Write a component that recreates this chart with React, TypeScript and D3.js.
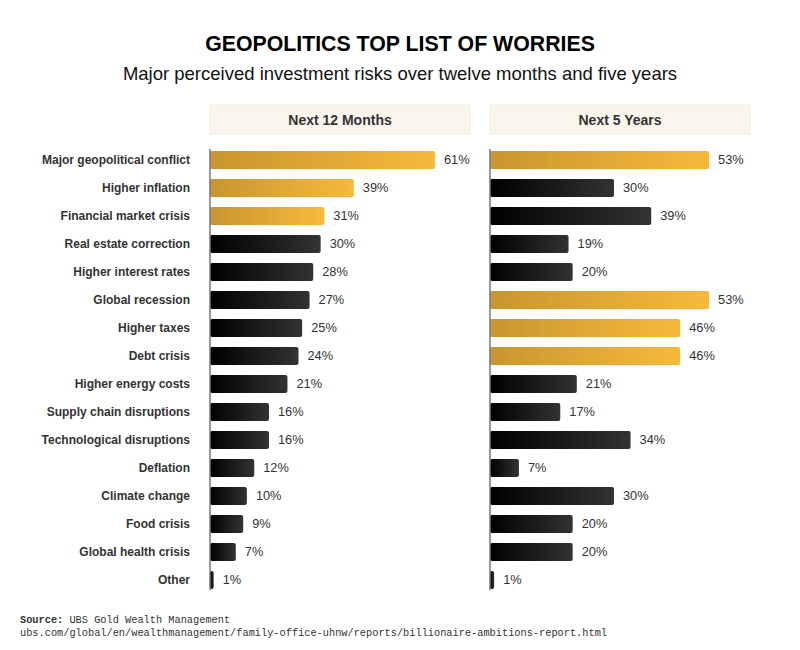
import React from "react";
import * as d3 from "d3";

const categories = [
  "Major geopolitical conflict",
  "Higher inflation",
  "Financial market crisis",
  "Real estate correction",
  "Higher interest rates",
  "Global recession",
  "Higher taxes",
  "Debt crisis",
  "Higher energy costs",
  "Supply chain disruptions",
  "Technological disruptions",
  "Deflation",
  "Climate change",
  "Food crisis",
  "Global health crisis",
  "Other",
];
const next12Months = [61, 39, 31, 30, 28, 27, 25, 24, 21, 16, 16, 12, 10, 9, 7, 1];
const next5Years = [53, 30, 39, 19, 20, 53, 46, 46, 21, 17, 34, 7, 30, 20, 20, 1];
const highlight12 = [0, 1, 2];
const highlight5 = [0, 5, 6, 7];
const panelTitles = ["Next 12 Months", "Next 5 Years"];

const W = 800;
const H = 650;
const FONT = "'Liberation Sans', Arial, Helvetica, sans-serif";
const MONO = "'Liberation Mono', 'DejaVu Sans Mono', monospace";

export default function App() {
  const y = d3
    .scaleBand<string>()
    .domain(categories)
    .range([146, 594])
    .paddingInner(0.36)
    .paddingOuter(0.18);

  const panels = [
    { title: panelTitles[0], values: next12Months, hi: highlight12, x0: 210, dmax: 70.5 },
    { title: panelTitles[1], values: next5Years, hi: highlight5, x0: 490, dmax: 62.9 },
  ];
  const panelW = 260;

  return (
    <svg width={W} height={H} style={{ display: "block", position: "absolute", left: 0, top: 0 }}>
      <defs>
        <linearGradient id="gold" x1="0" y1="0" x2="1" y2="0">
          <stop offset="0%" stopColor="#c8962f" />
          <stop offset="100%" stopColor="#f7b93a" />
        </linearGradient>
        <linearGradient id="dark" x1="0" y1="0" x2="1" y2="0">
          <stop offset="0%" stopColor="#000000" />
          <stop offset="100%" stopColor="#333333" />
        </linearGradient>
      </defs>
      <rect x={0} y={0} width={W} height={H} fill="#ffffff" />
      <text x={400} y={51} textAnchor="middle" fontFamily={FONT} fontWeight="bold" fontSize={21.3} fill="#000">
        GEOPOLITICS TOP LIST OF WORRIES
      </text>
      <text x={400} y={80} textAnchor="middle" fontFamily={FONT} fontSize={18.5} fill="#111">
        Major perceived investment risks over twelve months and five years
      </text>

      {categories.map((c) => (
        <text
          key={c}
          x={190}
          y={(y(c) as number) + y.bandwidth() / 2}
          dy="0.35em"
          textAnchor="end"
          fontFamily={FONT}
          fontWeight="bold"
          fontSize={12}
          fill="#333"
        >
          {c}
        </text>
      ))}

      {panels.map((p, pi) => {
        const x = d3.scaleLinear().domain([0, p.dmax]).range([p.x0, p.x0 + panelW]);
        return (
          <g key={pi}>
            <rect x={p.x0} y={105} width={panelW} height={29} fill="#faf6ee" stroke="#f0ebe0" strokeWidth={1} />
            <text
              x={p.x0 + panelW / 2}
              y={120}
              dy="0.35em"
              textAnchor="middle"
              fontFamily={FONT}
              fontWeight="bold"
              fontSize={14}
              fill="#333"
            >
              {p.title}
            </text>
            {categories.map((c, i) => {
              const v = p.values[i];
              const yy = y(c) as number;
              const w = x(v) - x(0);
              return (
                <g key={c}>
                  <rect
                    x={x(0)}
                    y={yy}
                    width={w}
                    height={y.bandwidth()}
                    rx={2}
                    fill={p.hi.includes(i) ? "url(#gold)" : "url(#dark)"}
                  />
                  <text
                    x={x(v) + 9}
                    y={yy + y.bandwidth() / 2}
                    dy="0.35em"
                    fontFamily={FONT}
                    fontSize={12.8}
                    fill="#333"
                  >
                    {v}%
                  </text>
                </g>
              );
            })}
            <line x1={x(0)} x2={x(0)} y1={149} y2={590} stroke="#777" strokeWidth={1.5} />
          </g>
        );
      })}

      <text x={20} y={623} fontFamily={MONO} fontSize={10.3} fill="#333">
        <tspan fontWeight="bold">Source:</tspan> UBS Gold Wealth Management
      </text>
      <text x={20} y={636} fontFamily={MONO} fontSize={10.3} fill="#333">
        ubs.com/global/en/wealthmanagement/family-office-uhnw/reports/billionaire-ambitions-report.html
      </text>
    </svg>
  );
}
